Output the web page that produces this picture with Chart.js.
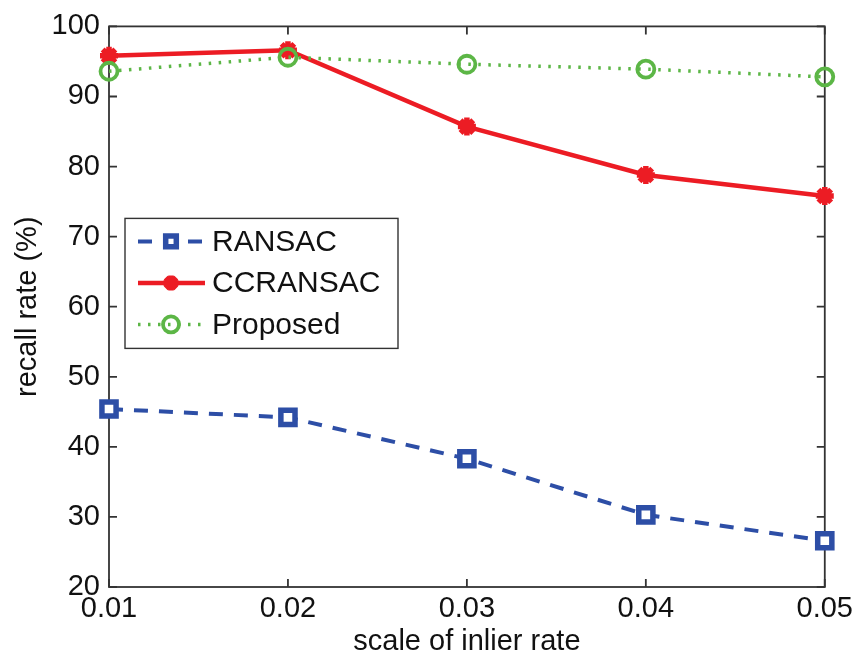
<!DOCTYPE html>
<html>
<head>
<meta charset="utf-8">
<script src="https://cdn.jsdelivr.net/npm/chart.js@4.4.0/dist/chart.umd.min.js"></script>
<style>
  html, body { margin: 0; padding: 0; background: #ffffff; }
  #wrap { width: 858px; height: 656px; }
</style>
</head>
<body>
<div id="wrap"><canvas id="chart" width="858" height="656"></canvas></div>
<script>
  // values
  const inlierScales = [0.01, 0.02, 0.03, 0.04, 0.05];
  const ransacRecall = [45.4, 44.2, 38.3, 30.3, 26.6];
  const ccransacRecall = [95.8, 96.6, 85.7, 78.8, 75.8];
  const proposedRecall = [93.6, 95.6, 94.6, 93.9, 92.8];
  const yTickValues = [20, 30, 40, 50, 60, 70, 80, 90, 100];

  const FONT = 'Liberation Sans, Arial, sans-serif';
  const AXIS = '#333333';

  function toPoints(values) {
    return inlierScales.map((x, i) => ({ x: x, y: values[i] }));
  }

  // MATLAB-style box with inward ticks on all four sides
  const boxPlugin = {
    id: 'boxTicks',
    beforeDatasetsDraw(chart) {
      const { ctx, chartArea: a, scales } = chart;
      const len = 8;
      ctx.save();
      ctx.strokeStyle = AXIS;
      ctx.lineWidth = 1.8;
      ctx.strokeRect(a.left, a.top, a.right - a.left, a.bottom - a.top);
      ctx.beginPath();
      inlierScales.forEach((v) => {
        const px = scales.x.getPixelForValue(v);
        ctx.moveTo(px, a.bottom); ctx.lineTo(px, a.bottom - len);
        ctx.moveTo(px, a.top); ctx.lineTo(px, a.top + len);
      });
      yTickValues.forEach((v) => {
        const py = scales.y.getPixelForValue(v);
        ctx.moveTo(a.left, py); ctx.lineTo(a.left + len, py);
        ctx.moveTo(a.right, py); ctx.lineTo(a.right - len, py);
      });
      ctx.stroke();
      ctx.restore();
    }
  };

  // boxed legend inside the plot, like the original
  const legendPlugin = {
    id: 'boxLegend',
    afterDraw(chart) {
      const { ctx, chartArea: a } = chart;
      const x0 = a.left + 16;
      const y0 = a.top + 192;
      const w = 273;
      const h = 130;
      ctx.save();
      ctx.fillStyle = '#ffffff';
      ctx.fillRect(x0, y0, w, h);
      ctx.strokeStyle = AXIS;
      ctx.lineWidth = 1.4;
      ctx.strokeRect(x0, y0, w, h);

      chart.data.datasets.forEach((ds, i) => {
        const cy = y0 + 23 + i * 41.5;
        ctx.save();
        ctx.strokeStyle = ds.borderColor;
        ctx.lineWidth = ds.borderWidth;
        ctx.setLineDash(ds.borderDash || []);
        ctx.beginPath();
        ctx.moveTo(x0 + 13, cy);
        ctx.lineTo(x0 + 80, cy);
        ctx.stroke();
        ctx.restore();

        ctx.save();
        ctx.strokeStyle = ds.pointBorderColor;
        ctx.fillStyle = ds.pointBackgroundColor;
        ctx.lineWidth = ds.pointBorderWidth;
        Chart.helpers.drawPoint(ctx, {
          pointStyle: ds.pointStyle,
          radius: ds.legendRadius,
          rotation: 0,
          borderWidth: ds.pointBorderWidth
        }, x0 + 46, cy);
        ctx.restore();

        ctx.fillStyle = '#111111';
        ctx.font = '30px ' + FONT;
        ctx.textBaseline = 'middle';
        ctx.textAlign = 'left';
        ctx.fillText(ds.label, x0 + 87, cy + 1);
      });
      ctx.restore();
    }
  };

  new Chart(document.getElementById('chart'), {
    type: 'line',
    data: {
      datasets: [
        {
          label: 'RANSAC',
          data: toPoints(ransacRecall),
          borderColor: '#2d4ea6',
          borderWidth: 4,
          borderDash: [14, 11],
          pointStyle: 'rect',
          pointRadius: 10,
          pointBorderWidth: 5.5,
          pointBorderColor: '#2d4ea6',
          pointBackgroundColor: '#ffffff',
          legendRadius: 7.5,
          order: 3
        },
        {
          label: 'CCRANSAC',
          data: toPoints(ccransacRecall),
          borderColor: '#ec1c24',
          borderWidth: 4.5,
          pointStyle: 'star',
          pointRadius: 9,
          pointBorderWidth: 5.5,
          pointBorderColor: '#ec1c24',
          pointBackgroundColor: '#ec1c24',
          legendRadius: 7.5,
          order: 2
        },
        {
          label: 'Proposed',
          data: toPoints(proposedRecall),
          borderColor: '#5cb646',
          borderWidth: 3.5,
          borderDash: [2.5, 7.5],
          pointStyle: 'circle',
          pointRadius: 8.5,
          pointBorderWidth: 3.8,
          pointBorderColor: '#5cb646',
          pointBackgroundColor: 'rgba(255,255,255,0)',
          legendRadius: 8,
          order: 1
        }
      ]
    },
    options: {
      responsive: false,
      animation: false,
      clip: false,
      layout: { padding: { top: 20, right: 33, left: 0, bottom: 0 } },
      plugins: {
        legend: { display: false },
        tooltip: { enabled: false }
      },
      scales: {
        x: {
          type: 'linear',
          min: 0.01,
          max: 0.05,
          afterFit: (s) => { s.height = 69; },
          afterBuildTicks: (s) => { s.ticks = inlierScales.map((v) => ({ value: v })); },
          grid: { display: false, drawTicks: false },
          border: { display: false },
          ticks: {
            padding: 5,
            color: '#111111',
            font: { family: FONT, size: 29 },
            maxRotation: 0,
            callback: (v) => Number(v).toFixed(2)
          },
          title: {
            display: true,
            text: 'scale of inlier rate',
            color: '#111111',
            font: { family: FONT, size: 29, lineHeight: 1 },
            padding: { top: 0, bottom: 0 }
          }
        },
        y: {
          min: 20,
          max: 100,
          afterFit: (s) => { s.width = 109; },
          afterBuildTicks: (s) => { s.ticks = yTickValues.map((v) => ({ value: v })); },
          grid: { display: false, drawTicks: false },
          border: { display: false },
          ticks: {
            padding: 9,
            color: '#111111',
            font: { family: FONT, size: 29 }
          },
          title: {
            display: true,
            text: 'recall rate (%)',
            color: '#111111',
            font: { family: FONT, size: 29, lineHeight: 1 },
            padding: { top: 13, bottom: 0 }
          }
        }
      }
    },
    plugins: [boxPlugin, legendPlugin]
  });
</script>
</body>
</html>
